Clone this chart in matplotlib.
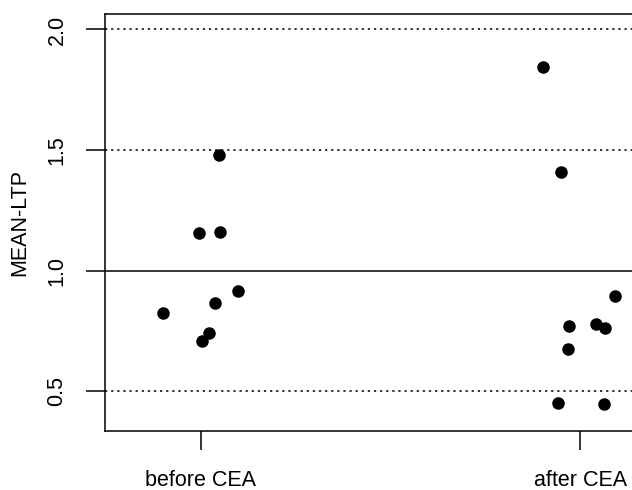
import numpy as np
import matplotlib
matplotlib.use("Agg")
import matplotlib.pyplot as plt

plt.rcParams['font.family'] = ['Liberation Sans', 'DejaVu Sans']

# groups and their stripchart values (x includes the jitter)
groups = ['before CEA', 'after CEA']
before_x = [1.047, 0.994, 1.050, 1.098, 1.037, 0.901, 1.020, 1.003]
before_y = [1.481, 1.155, 1.162, 0.918, 0.868, 0.824, 0.741, 0.708]
after_x = [1.902, 1.949, 2.092, 1.972, 2.042, 2.066, 1.969, 1.943, 2.063]
after_y = [1.845, 1.408, 0.896, 0.771, 0.779, 0.764, 0.675, 0.453, 0.446]
dotted_levels = [0.5, 1.5, 2.0]
ref_level = 1.0
yticks = [0.5, 1.0, 1.5, 2.0]

fig = plt.figure(figsize=(6.32, 4.90), dpi=100)
ax = fig.add_axes([105/632, 59/490, 571/632, 417/490])

for lv in dotted_levels:
    ax.axhline(lv, color='black', lw=1.1, ls=(0, (1.5, 2.5)))
ax.axhline(ref_level, color='black', lw=1.1)

ax.scatter(before_x, before_y, s=64, color='black', zorder=3)
ax.scatter(after_x, after_y, s=64, color='black', zorder=3)

ax.set_xlim(0.747, 2.253)
ax.set_ylim(0.336, 2.064)
ax.set_xticks([1, 2])
ax.set_xticklabels(groups)
ax.set_yticks(yticks)
ax.set_yticklabels(['0.5', '1.0', '1.5', '2.0'], rotation=90, va='center')
ax.tick_params(length=14, width=1.1, labelsize=15.5)
ax.tick_params(axis='x', pad=14)
ax.tick_params(axis='y', pad=13)
ax.set_ylabel('MEAN-LTP', fontsize=15.5, labelpad=12)
for sp in ax.spines.values():
    sp.set_linewidth(1.1)

fig.savefig('out.png', dpi=100)
